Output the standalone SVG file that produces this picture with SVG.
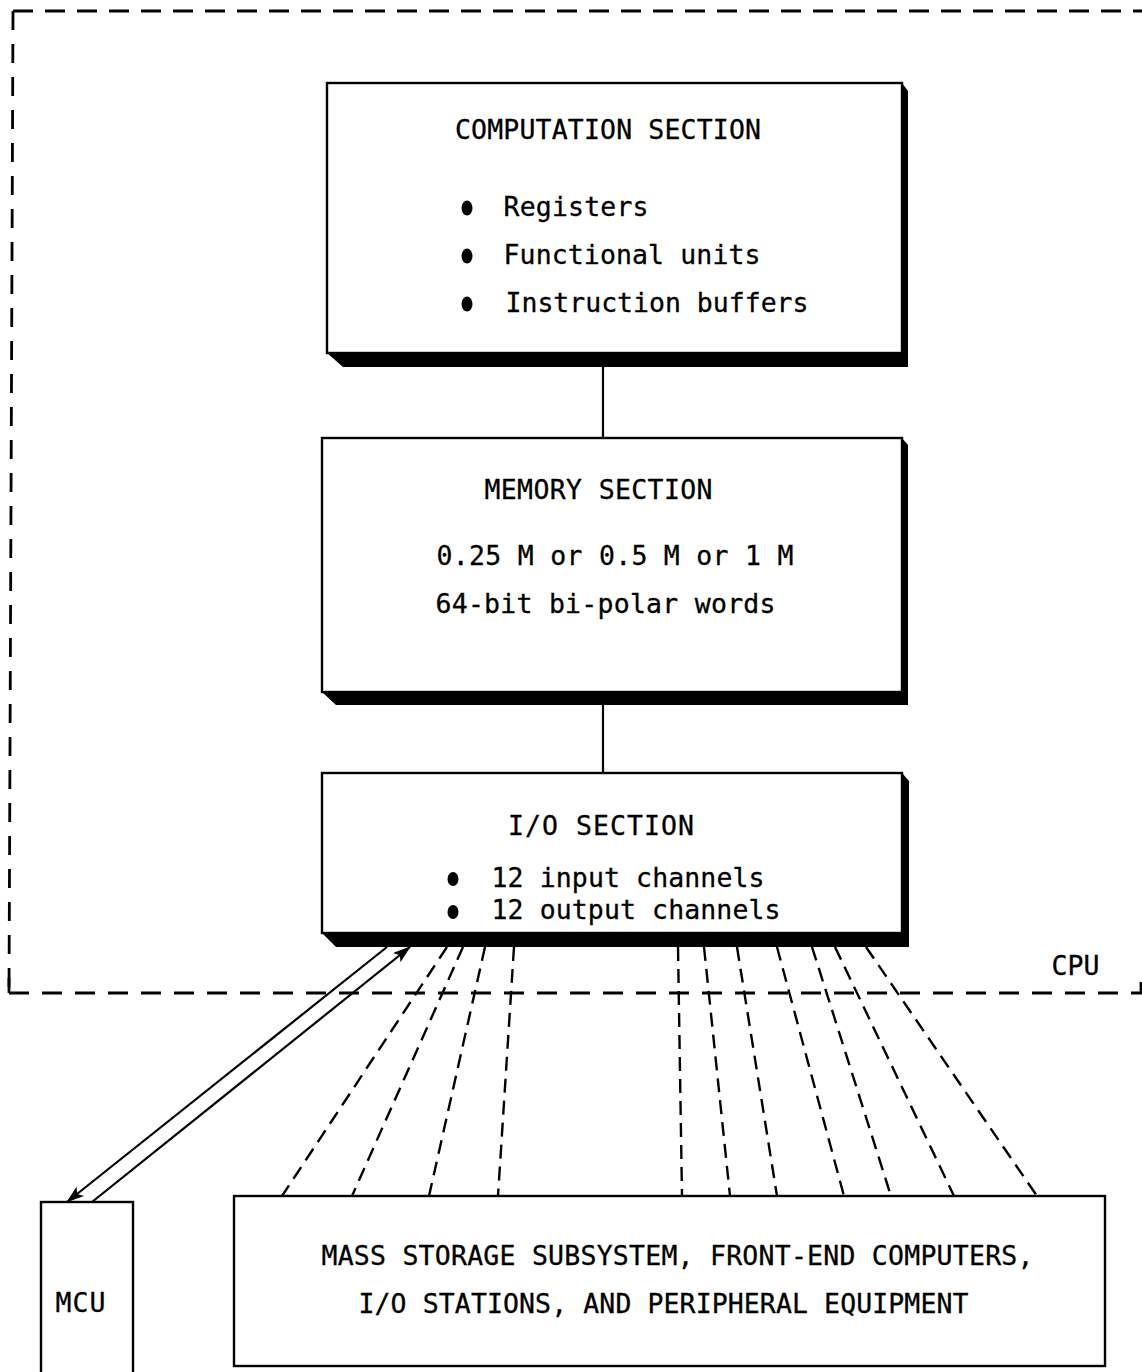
<svg xmlns="http://www.w3.org/2000/svg" width="1142" height="1372" viewBox="0 0 1142 1372">
  <defs>
    <style>
      .box { fill: #fff; stroke: #000; stroke-width: 2.4; }
      .shadow { fill: #000; stroke: none; }
      .t { font-family: "DejaVu Sans Mono", "Liberation Mono", monospace; font-size: 26.5px; fill: #000; stroke: #000; stroke-width: 0.3; }
      .solid { stroke: #000; stroke-width: 2.2; fill: none; }
      .dash { stroke: #000; stroke-width: 2.4; fill: none; stroke-dasharray: 14 8; }
      .border { stroke: #000; stroke-width: 2.8; fill: none; }
      .bullet { fill: #000; }
    </style>
    <marker id="arr" viewBox="0 0 18 12" refX="17" refY="6" markerWidth="18" markerHeight="12" markerUnits="userSpaceOnUse" orient="auto">
      <path d="M0,0 L18,6 L0,12 L4,6 Z" fill="#000"/>
    </marker>
  </defs>
  <rect width="1142" height="1372" fill="#fff"/>

  <g id="cpu-boundary">
    <path class="border" d="M13,11 L9,993" stroke-dasharray="19 14"/>
    <path class="border" d="M9,978 L9,993"/>
    <path class="border" d="M13,11 H1142" stroke-dasharray="20 12"/>
    <path class="border" d="M9,993 H1142" stroke-dasharray="20 13"/>
    <path class="border" d="M1141,982 V994"/>
    <text class="t" x="1051.5" y="975" textLength="48" lengthAdjust="spacing">CPU</text>
  </g>

  <g id="connectors">
    <line class="solid" x1="603" y1="367" x2="603" y2="438"/>
    <line class="solid" x1="603" y1="705" x2="603" y2="773"/>
    <line class="solid" x1="387" y1="947" x2="67" y2="1202" marker-end="url(#arr)"/>
    <line class="solid" x1="92" y1="1202" x2="410" y2="947" marker-end="url(#arr)"/>
    <line class="dash" x1="447" y1="947" x2="282" y2="1196"/>
    <line class="dash" x1="463" y1="947" x2="352" y2="1196"/>
    <line class="dash" x1="485" y1="947" x2="429" y2="1196"/>
    <line class="dash" x1="514" y1="947" x2="498" y2="1196"/>
    <line class="dash" x1="678" y1="947" x2="682" y2="1196"/>
    <line class="dash" x1="704" y1="947" x2="730" y2="1196"/>
    <line class="dash" x1="737" y1="947" x2="777" y2="1196"/>
    <line class="dash" x1="777" y1="947" x2="844" y2="1196"/>
    <line class="dash" x1="812" y1="947" x2="891" y2="1196"/>
    <line class="dash" x1="835" y1="947" x2="954" y2="1196"/>
    <line class="dash" x1="866" y1="947" x2="1037" y2="1196"/>
  </g>

  <g id="computation-section">
    <polygon class="shadow" points="327,353 343,367 908,367 908,91 902,83"/>
    <rect class="box" x="327" y="83" width="575" height="270"/>
    <text class="t" x="455" y="139" textLength="306" lengthAdjust="spacing">COMPUTATION SECTION</text>
    <ellipse class="bullet" cx="467" cy="208" rx="5.5" ry="7.5"/>
    <text class="t" x="503.5" y="216" textLength="145" lengthAdjust="spacing">Registers</text>
    <ellipse class="bullet" cx="467" cy="256" rx="5.5" ry="7.5"/>
    <text class="t" x="503.5" y="264" textLength="257" lengthAdjust="spacing">Functional units</text>
    <ellipse class="bullet" cx="467" cy="304" rx="5.5" ry="7.5"/>
    <text class="t" x="505.5" y="312" textLength="303" lengthAdjust="spacing">Instruction buffers</text>
  </g>

  <g id="memory-section">
    <polygon class="shadow" points="322,692 336,705 908,705 908,445 902,438"/>
    <rect class="box" x="322" y="438" width="580" height="254"/>
    <text class="t" x="484.5" y="499" textLength="228" lengthAdjust="spacing">MEMORY SECTION</text>
    <text class="t" x="436.5" y="565" textLength="357" lengthAdjust="spacing">0.25 M or 0.5 M or 1 M</text>
    <text class="t" x="435.5" y="613" textLength="340" lengthAdjust="spacing">64-bit bi-polar words</text>
  </g>

  <g id="io-section">
    <polygon class="shadow" points="322,933 336,947 909,947 909,781 902,773"/>
    <rect class="box" x="322" y="773" width="580" height="160"/>
    <text class="t" x="508" y="835" textLength="186" lengthAdjust="spacing">I/O SECTION</text>
    <ellipse class="bullet" cx="453" cy="879" rx="5.5" ry="7"/>
    <text class="t" x="491.5" y="887" textLength="273" lengthAdjust="spacing">12 input channels</text>
    <ellipse class="bullet" cx="453" cy="912" rx="5.5" ry="7"/>
    <text class="t" x="491.5" y="919" textLength="289" lengthAdjust="spacing">12 output channels</text>
  </g>

  <g id="mcu">
    <rect class="box" x="41" y="1202" width="92" height="180"/>
    <text class="t" x="55.5" y="1312" textLength="50" lengthAdjust="spacing">MCU</text>
  </g>

  <g id="peripherals">
    <rect class="box" x="234" y="1196" width="871" height="170"/>
    <text class="t" x="321.5" y="1265" textLength="712" lengthAdjust="spacing">MASS STORAGE SUBSYSTEM, FRONT-END COMPUTERS,</text>
    <text class="t" x="358.5" y="1313" textLength="610" lengthAdjust="spacing">I/O STATIONS, AND PERIPHERAL EQUIPMENT</text>
  </g>
</svg>
